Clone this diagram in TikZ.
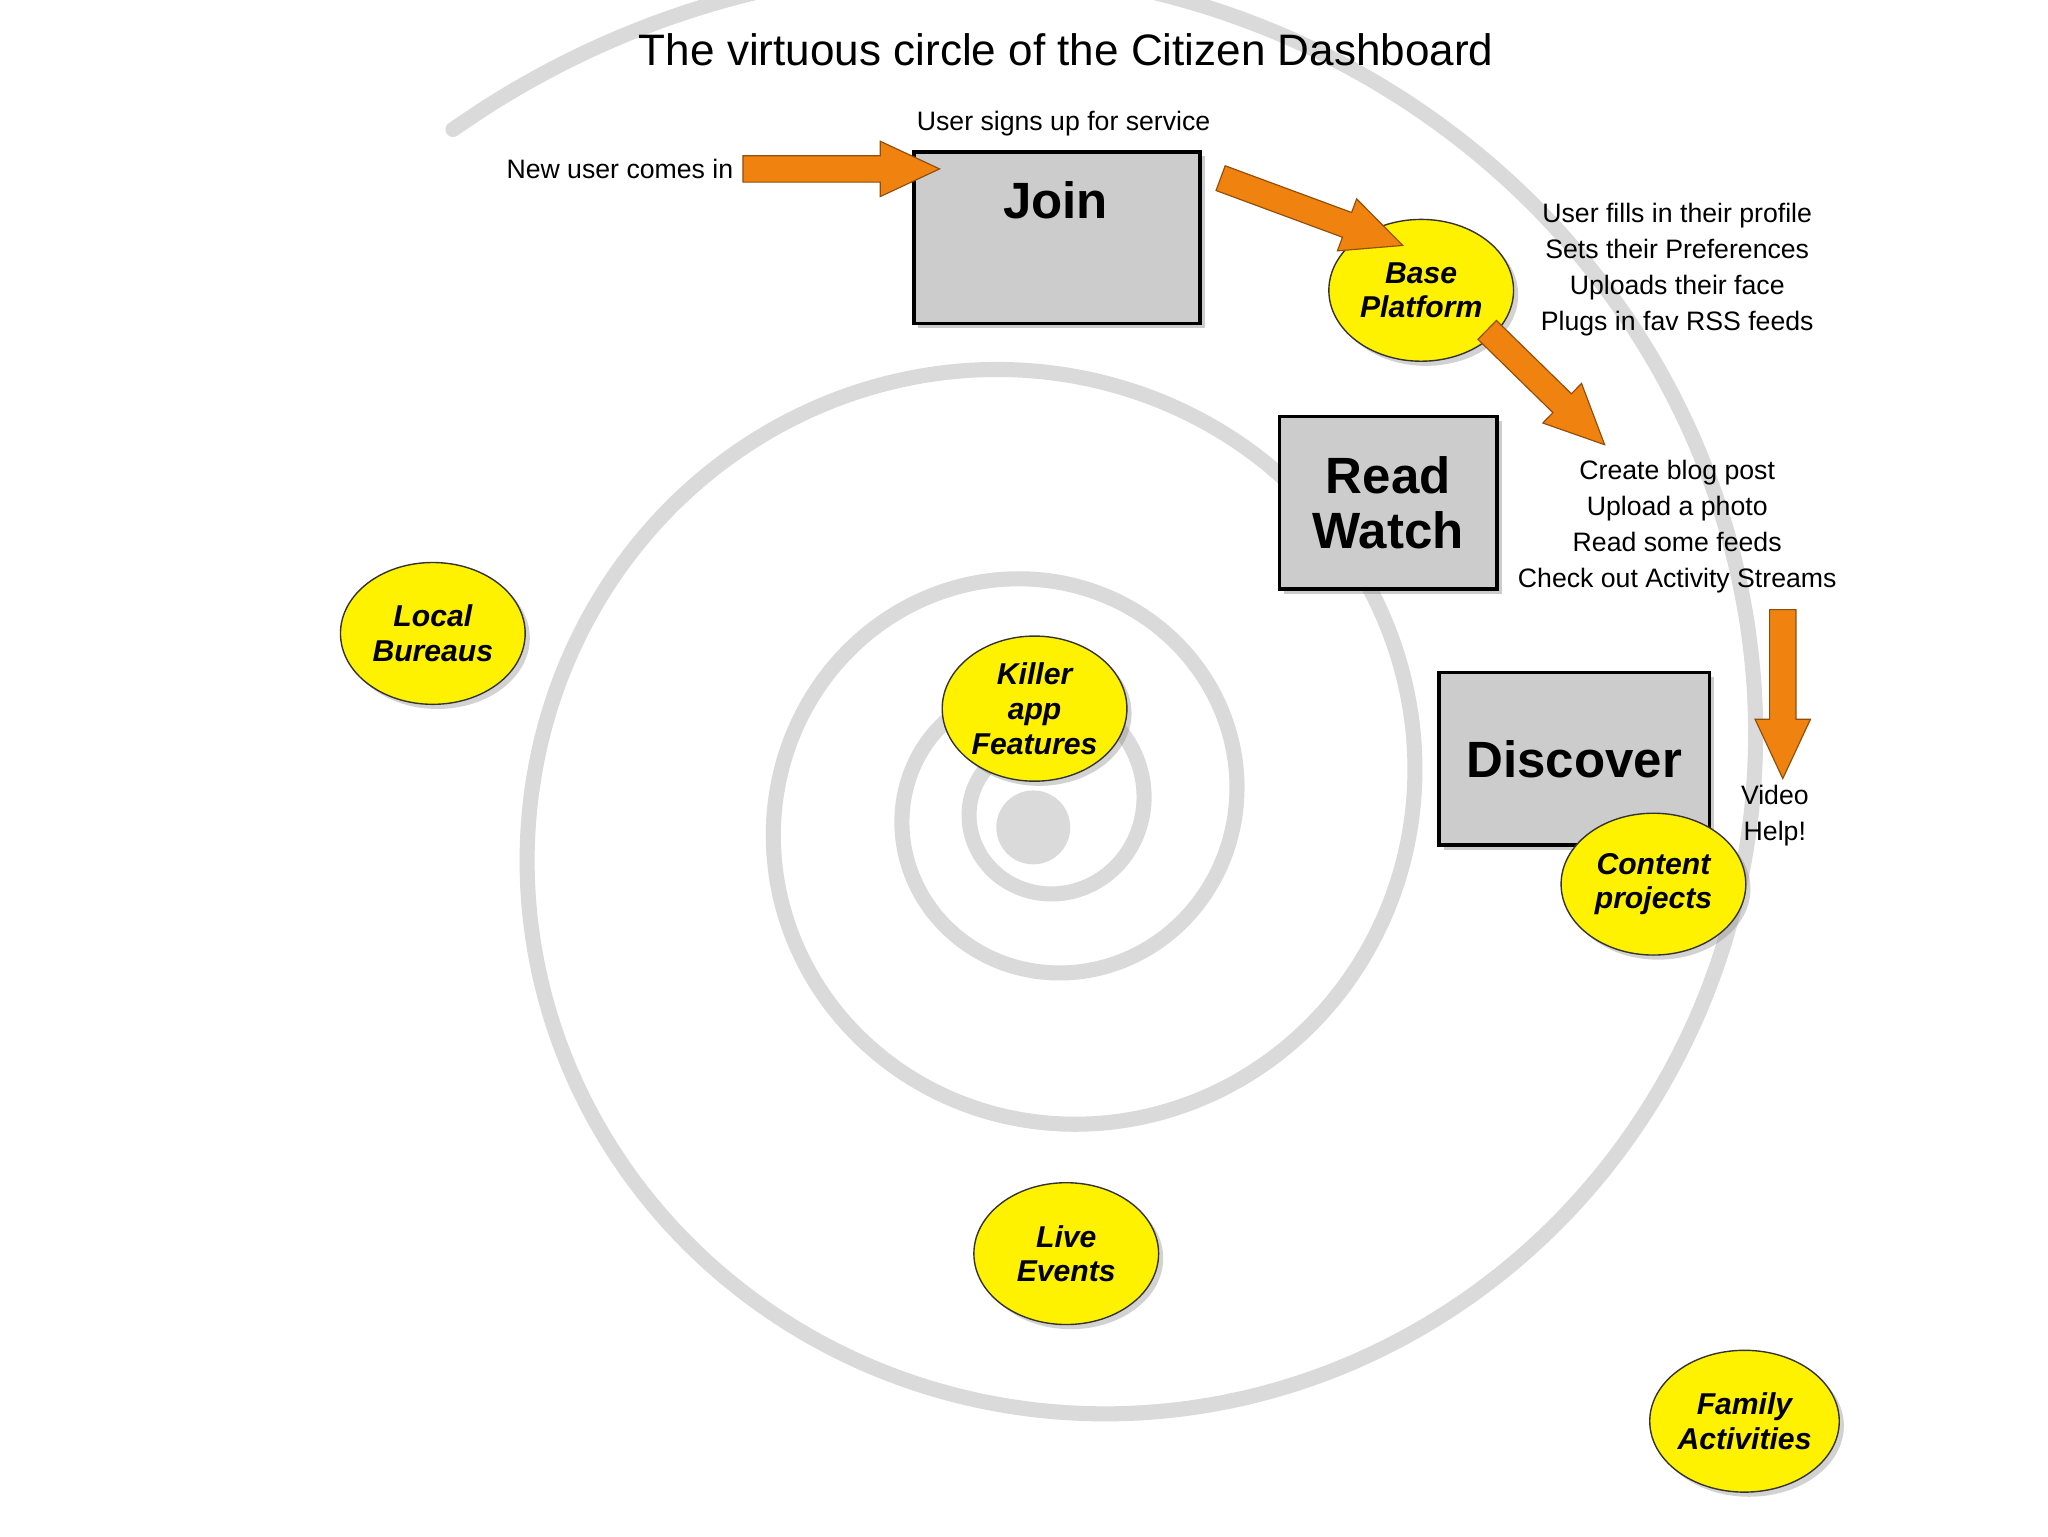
\documentclass[tikz,border=0pt]{standalone}
\usepackage{fontspec}
\setmainfont{Liberation Sans}
\usetikzlibrary{shapes.geometric,shadows,calc}
\definecolor{spir}{HTML}{DADADA}
\definecolor{orng}{HTML}{F0820F}
\definecolor{boxg}{HTML}{CCCCCC}
\definecolor{yel}{HTML}{FFF200}
\tikzset{
 box/.style={draw=black,line width=1.5pt,fill=boxg,drop shadow={shadow xshift=2pt,shadow yshift=-2pt,opacity=0.4}},
 ell/.style={ellipse,draw=black!80,line width=0.6pt,fill=yel,minimum width=2.8cm,minimum height=2.15cm,inner sep=0pt,align=center,font=\fontsize{13}{15}\selectfont\bfseries\itshape,drop shadow={shadow xshift=2pt,shadow yshift=-2pt,opacity=0.35}},
 lbl/.style={font=\fontsize{11.5}{15.5}\selectfont,align=center,inner sep=0pt},
 big/.style={font=\fontsize{22}{24}\selectfont\bfseries,align=center},
 barrow/.style={fill=orng,draw=orng!60!black,line width=0.5pt,line join=miter}
}
\newcommand\blockarrow[2]{%
 \coordinate (hh) at ($(#2)!0.9cm!(#1)$);
 \path[barrow] ($(#1)!0.2cm!90:(#2)$) -- ($(hh)!0.2cm!-90:(#1)$) -- ($(hh)!0.42cm!-90:(#1)$) -- (#2)
   -- ($(hh)!0.42cm!90:(#1)$) -- ($(hh)!0.2cm!90:(#1)$) -- ($(#1)!0.2cm!-90:(#2)$) -- cycle;}
\begin{document}
\begin{tikzpicture}[x=0.02cm,y=-0.02cm]
\useasboundingbox (0,0) rectangle (1552,1164);
\fill[white] (0,0) rectangle (1552,1164);
% spiral
\draw[spir,line width=6.5pt,line cap=round] plot[domain=60:1571,samples=600,smooth]
 ({790+40*1.915^(\x/360)*cos(-\x)},{612+40*1.915^(\x/360)*sin(-\x)});
\fill[spir] (783,627) circle (28);
\node (title) at (808,38) {\fontsize{19}{22}\selectfont The virtuous circle of the Citizen Dashboard};
% boxes
\node[box,minimum width=4.34cm,minimum height=2.6cm] (join) at (801,180) {};
\node[big,font=\fontsize{22}{24}\selectfont\bfseries] at (800,152) {Join};
\node[box,minimum width=3.3cm,minimum height=2.62cm,big] (read) at (1052,381) {Read\\Watch};
\node[box,minimum width=4.1cm,minimum height=2.62cm,big] (disc) at (1193,575) {Discover};
% ellipses
\node[ell] (base) at (1077,220) {Base\\Platform};
\node[ell] (content) at (1253,670) {Content\\projects};
\node[ell] (local) at (328,480) {Local\\Bureaus};
\node[ell,minimum height=2.2cm] (killer) at (784,537) {Killer\\app\\Features};
\node[ell] (live) at (808,950) {Live\\Events};
\node[ell] (family) at (1322,1077) {Family\\Activities};
% labels
\node[lbl,anchor=east] (newu) at (556,128) {New user comes in};
\node[lbl] (signs) at (806,94) {User signs up for service};
\node[lbl] (prof) at (1271,204) {User fills in their profile\\Sets their Preferences\\Uploads their face\\Plugs in fav RSS feeds};
\node[lbl] (blog) at (1271,399) {Create blog post\\Upload a photo\\Read some feeds\\Check out Activity Streams};
\node[lbl] (video) at (1345,618) {Video\\Help!};
% arrows
\coordinate (a1s) at (563,128); \coordinate (a1e) at (712,128);
\coordinate (a2s) at (925,135); \coordinate (a2e) at (1063,186);
\coordinate (a3s) at (1127,250); \coordinate (a3e) at (1216,337);
\coordinate (a4s) at (1351,462); \coordinate (a4e) at (1351,590);
\blockarrow{a1s}{a1e}
\blockarrow{a2s}{a2e}
\blockarrow{a3s}{a3e}
\blockarrow{a4s}{a4e}
\end{tikzpicture}
\end{document}
